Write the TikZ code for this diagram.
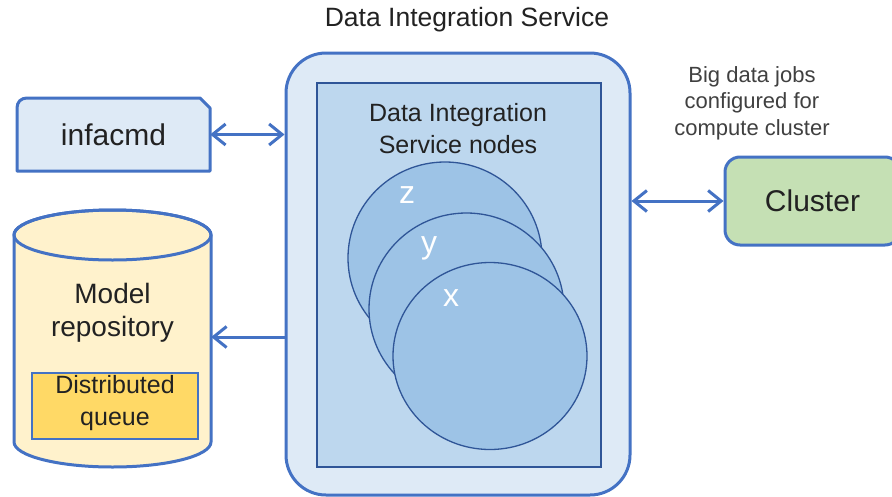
\documentclass[tikz,border=0pt]{standalone}
\usepackage{fontspec}
\setmainfont{Liberation Sans}
\usetikzlibrary{arrows.meta,shapes.geometric}
\definecolor{lineblue}{HTML}{4472C4}
\definecolor{darkblue}{HTML}{2F5597}
\definecolor{outerfill}{HTML}{DEEAF6}
\definecolor{innerfill}{HTML}{BDD7EE}
\definecolor{circfill}{HTML}{9DC3E6}
\definecolor{cylfill}{HTML}{FFF2CC}
\definecolor{queuefill}{HTML}{FFD966}
\definecolor{clusterfill}{HTML}{C5E0B4}
\definecolor{textgray}{HTML}{222222}
\definecolor{labelgray}{HTML}{404040}
\tikzset{
  outerbox/.style={draw=lineblue, line width=3pt, fill=outerfill, rounded corners=40pt, inner sep=0pt},
  innerbox/.style={draw=darkblue, line width=1.5pt, fill=innerfill, inner sep=0pt},
  dinode/.style={ellipse, draw=darkblue, line width=1.3pt, fill=circfill, inner sep=0pt},
  nodelabel/.style={text=white, font=\fontsize{32}{32}\selectfont},
  conn/.style={draw=lineblue, line width=3pt, arrows={-Straight Barb[length=13pt,width=21pt]}},
  biconn/.style={draw=lineblue, line width=3pt, arrows={Straight Barb[length=13pt,width=21pt]-Straight Barb[length=13pt,width=21pt]}},
  txt/.style={text=textgray, align=center},
}
\begin{document}
\begin{tikzpicture}[x=1pt,y=-1pt]
\useasboundingbox (0,0) rectangle (892,496);
\fill[white] (0,0) rectangle (892,496);

% title
\node[txt, font=\fontsize{26.5}{32}\selectfont] (title) at (467,20) {Data Integration Service};

% Data Integration Service box
\node[outerbox, minimum width=344pt, minimum height=442pt] (dis) at (458,274) {};
\node[innerbox, minimum width=284pt, minimum height=384pt] (inner) at (459,275) {};
\node[txt, font=\fontsize{25}{32}\selectfont] (dislabel) at (458,129) {Data Integration\\Service nodes};

% nodes z, y, x
\node[dinode, minimum width=194pt, minimum height=192pt] (z) at (445,258) {};
\node[nodelabel] (zl) at (407,195) {z};
\node[dinode, minimum width=195pt, minimum height=192pt] (y) at (466.5,309) {};
\node[nodelabel] (yl) at (429,248) {y};
\node[dinode, minimum width=194pt, minimum height=187pt] (x) at (490,356) {};
\node[nodelabel] (xl) at (451,298) {x};

% infacmd
\draw[draw=lineblue, line width=3pt, fill=outerfill, line join=round]
  (17,171) -- (17,108) .. controls (17,102) and (21,98) .. (27,98) -- (200,98) -- (210,108) -- (210,171) -- cycle;
\node[txt, font=\fontsize{30}{32}\selectfont, minimum width=193pt, minimum height=73pt, inner sep=0pt] (inf) at (113.5,134.5) {infacmd};

% Model repository cylinder
\filldraw[draw=lineblue, line width=3pt, fill=cylfill, line join=round]
  (14,235) -- (14,442) arc[start angle=180, end angle=0, x radius=98.5, y radius=25]
  -- (211,235) arc[start angle=0, end angle=-180, x radius=98.5, y radius=25] -- cycle;
\draw[draw=lineblue, line width=3pt] (112.5,235) ellipse[x radius=98.5, y radius=25];
\node[minimum width=197pt, minimum height=10pt, inner sep=0pt] (repo) at (112.5,337) {};
\node[txt, font=\fontsize{28}{33}\selectfont] (repolabel) at (112.5,313) {Model\\repository};
\node[draw=lineblue, line width=1.5pt, fill=queuefill, minimum width=166pt, minimum height=66pt, inner sep=0pt] (queue) at (115,406) {};
\node[txt, font=\fontsize{25}{32}\selectfont] (queuelabel) at (115,403) {Distributed\\queue};

% Cluster
\node[draw=lineblue, line width=3pt, fill=clusterfill, rounded corners=15pt, minimum width=175pt, minimum height=88pt, inner sep=0pt, font=\fontsize{30}{32}\selectfont, text=textgray] (cluster) at (812.5,201) {Cluster};
\node[align=center, text=labelgray, font=\fontsize{22}{26.5}\selectfont] (jobs) at (752,103) {Big data jobs\\configured for\\compute cluster};

% connectors
\draw[biconn] (inf.east) -- (inf.east -| dis.west);
\draw[conn] (repo.east -| dis.west) -- (repo.east);
\draw[biconn] (cluster.west -| dis.east) -- (cluster.west);
\end{tikzpicture}
\end{document}
